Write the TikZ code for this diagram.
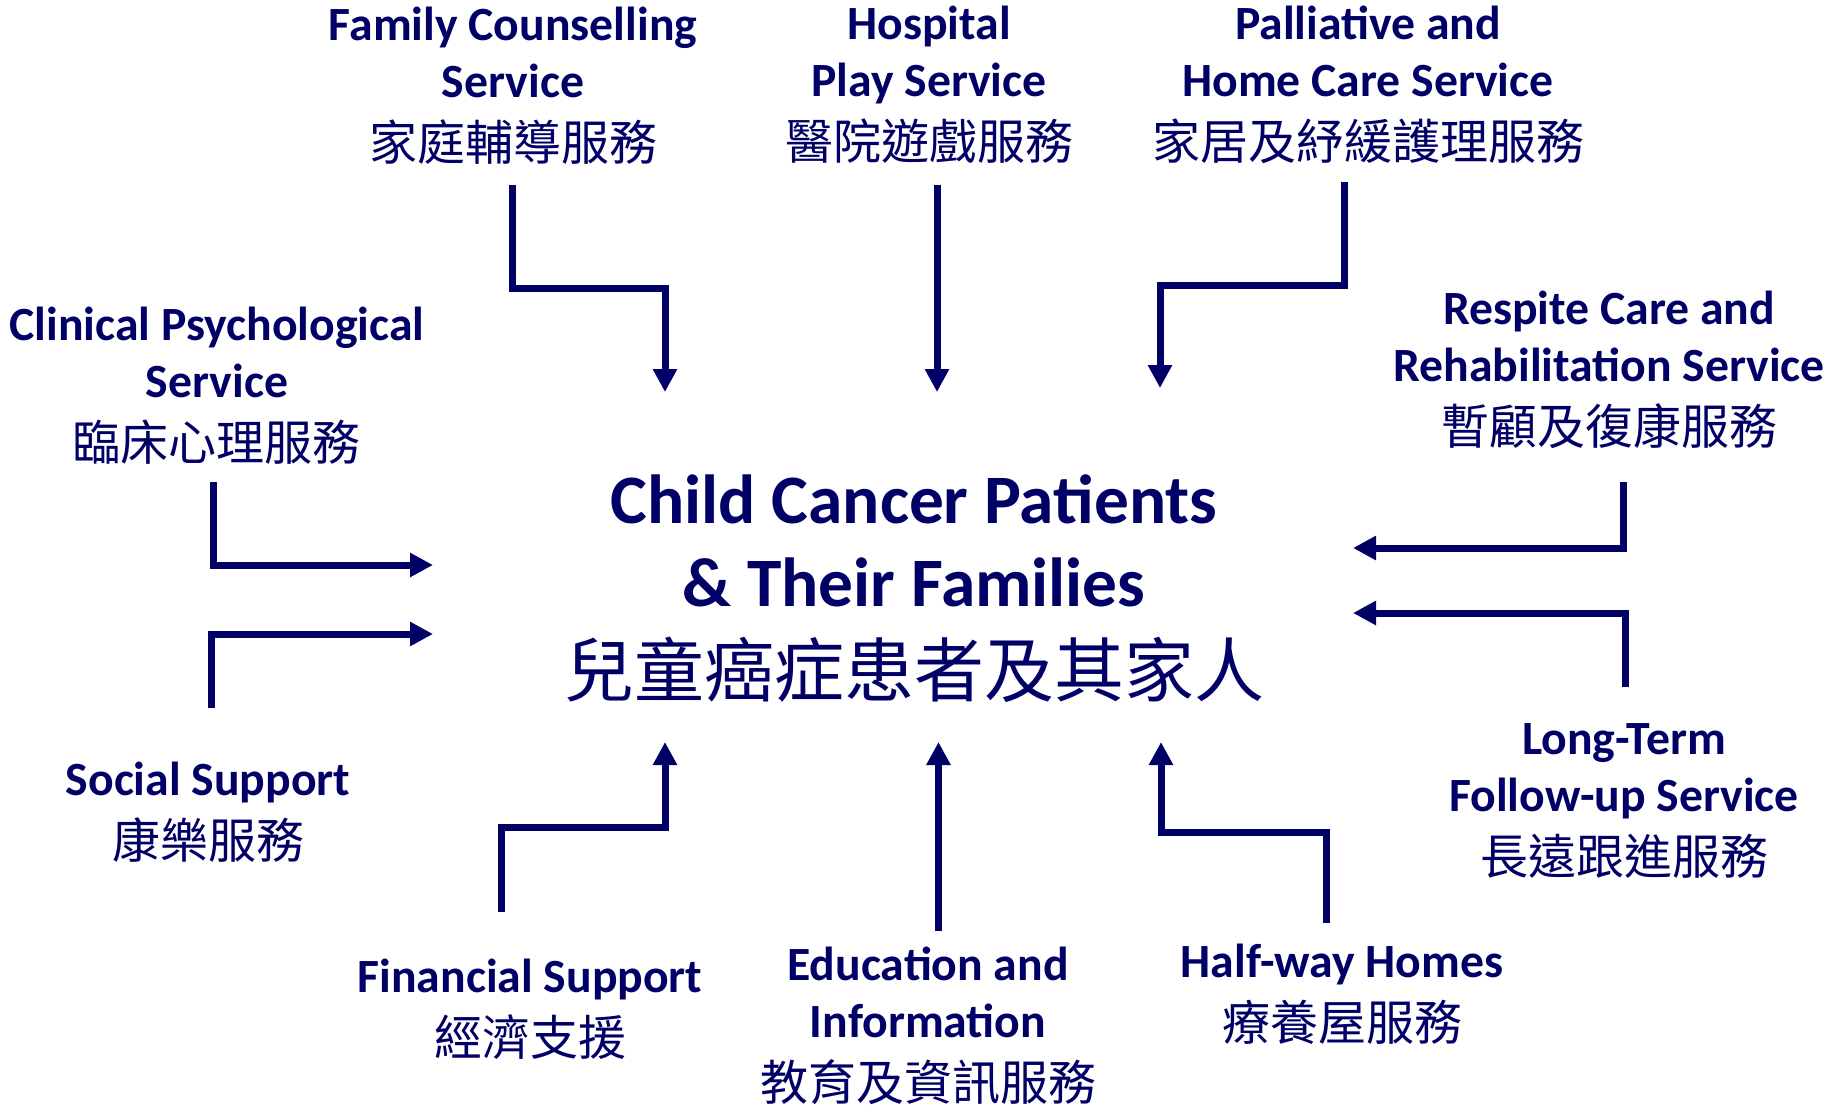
\documentclass[tikz,border=0pt]{standalone}
\usepackage{fontspec}
\setmainfont{Carlito}
\newfontfamily\cjkfont{Noto Sans CJK TC}
\usetikzlibrary{arrows.meta}
\definecolor{navy}{RGB}{0,0,102}
\newcommand\zhs{\cjkfont\mdseries\fontsize{48}{57}\selectfont}
\newcommand\zhb{\cjkfont\mdseries\fontsize{70}{83}\selectfont}
\newcommand\svc[2]{\vtop{\baselineskip=57pt\lineskiplimit=-500pt\lineskip=0pt\halign{\hfil##\hfil\cr#1\cr\noalign{\vskip6pt}\zhs #2\cr}}}
\newcommand\ctrtext[3]{\vtop{\baselineskip=83pt\lineskiplimit=-500pt\lineskip=0pt\halign{\hfil##\hfil\cr#1\cr#2\cr\noalign{\vskip7pt}\zhb #3\cr}}}
\begin{document}
\begin{tikzpicture}[x=1pt,y=-1pt,
  lbl/.style={inner sep=0pt, anchor=base, text=navy, font=\fontsize{47.7}{57}\selectfont\bfseries},
  ctrlbl/.style={inner sep=0pt, anchor=base, text=navy, font=\fontsize{69.4}{83}\selectfont\bfseries},
  flow/.style={draw=navy, line width=7pt, line join=miter, -{Triangle[length=23pt,width=23pt]}}]
\fill[white] (0,0) rectangle (1839,1104);
\useasboundingbox (0,0) rectangle (1839,1104);

% centre
\node[ctrlbl] (ctr) at (914,523) {\ctrtext{Child Cancer Patients}{\& Their Families}{兒童癌症患者及其家人}};

% labels
\node[lbl] (fam) at (513,40) {\svc{Family Counselling\cr Service}{家庭輔導服務}};
\node[lbl] (hos) at (929,39) {\svc{Hospital\cr Play Service}{醫院遊戲服務}};
\node[lbl] (pal) at (1368,39) {\svc{Palliative and\cr Home Care Service}{家居及紓緩護理服務}};
\node[lbl] (cli) at (217,340) {\svc{Clinical Psychological\cr Service}{臨床心理服務}};
\node[lbl] (res) at (1609,324) {\svc{Respite Care and\cr Rehabilitation Service}{暫顧及復康服務}};
\node[lbl] (soc) at (208,795) {\svc{Social Support}{康樂服務}};
\node[lbl] (lon) at (1624,754) {\svc{Long-Term\cr Follow-up Service}{長遠跟進服務}};
\node[lbl] (fin) at (530,992) {\svc{Financial Support}{經濟支援}};
\node[lbl] (edu) at (928,980) {\svc{Education and\cr Information}{教育及資訊服務}};
\node[lbl] (hal) at (1342,977) {\svc{Half-way Homes}{療養屋服務}};

% arrow coordinates
\coordinate (famS) at (512.5,185);
\coordinate (famM) at (665,288);
\coordinate (famE) at (665,392);
\coordinate (hosS) at (937,185);
\coordinate (hosE) at (937,392);
\coordinate (palS) at (1344.5,182);
\coordinate (palM) at (1160,285);
\coordinate (palE) at (1160,388);
\coordinate (cliS) at (213,482);
\coordinate (cliE) at (433,565);
\coordinate (socS) at (211,708);
\coordinate (socE) at (433,634);
\coordinate (resS) at (1623,482);
\coordinate (resE) at (1353,548);
\coordinate (lonS) at (1625,687);
\coordinate (lonE) at (1353,613);
\coordinate (finS) at (501,912);
\coordinate (finM) at (665,827);
\coordinate (finE) at (665,742);
\coordinate (eduS) at (938.5,931);
\coordinate (eduE) at (938.5,742);
\coordinate (halS) at (1326,923);
\coordinate (halM) at (1161,832);
\coordinate (halE) at (1161,742);

% arrows
\draw[flow] (famS) |- (famM) -- (famE);
\draw[flow] (hosS) -- (hosE);
\draw[flow] (palS) |- (palM) -- (palE);
\draw[flow] (cliS) |- (cliE);
\draw[flow] (socS) |- (socE);
\draw[flow] (resS) |- (resE);
\draw[flow] (lonS) |- (lonE);
\draw[flow] (finS) |- (finM) -- (finE);
\draw[flow] (eduS) -- (eduE);
\draw[flow] (halS) |- (halM) -- (halE);
\end{tikzpicture}
\end{document}
